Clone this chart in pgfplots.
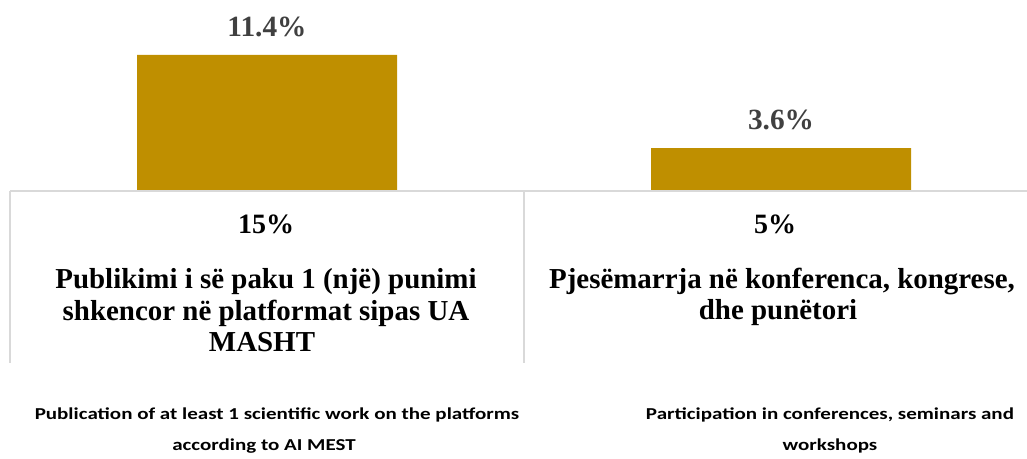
\documentclass[border=0pt]{standalone}
\usepackage{fontspec}
\setmainfont{Liberation Serif}
\newfontfamily\calibri[FakeStretch=1.26]{Carlito}
\usepackage{pgfplots}
\pgfplotsset{compat=1.18}
\definecolor{barcol}{RGB}{191,143,0}
\definecolor{gridcol}{RGB}{217,217,217}
\definecolor{lblcol}{RGB}{64,64,64}

\begin{document}
\begin{tikzpicture}
\begin{axis}[
  scale only axis, width=771pt, height=143.25pt,
  xmin=0, xmax=2, ymin=0, ymax=16,
  hide x axis, hide y axis,
  ybar, bar width=195pt,
  clip=false,
  nodes near coords={\pgfmathprintnumber[fixed,precision=1,fixed zerofill,assume math mode=true]{\pgfplotspointmeta}\%},
  every node near coord/.append style={font=\fontsize{22}{26}\selectfont\bfseries,
    text=lblcol, anchor=base, inner sep=0pt, yshift=14pt},
]
\addplot[fill=barcol, draw=none] coordinates {(0.5,11.4) (1.5,3.6)};
\coordinate (O) at (axis cs:0,0);
\end{axis}
\pgfresetboundingbox
% frame in image pixels, origin top-left
\begin{scope}[shift={(O)}, xshift=-7.5pt, yshift=143.25pt, x=0.75pt, y=-0.75pt]
\useasboundingbox (0,0) rectangle (1027,459);
\draw[gridcol, line width=1.1pt] (10,191) -- (1027,191);
\draw[gridcol, line width=1.1pt] (10,191) -- (10,363);
\draw[gridcol, line width=1.1pt] (524,191) -- (524,363);
\tikzset{pct/.style={font=\fontsize{21}{25}\selectfont\bfseries, anchor=base, inner sep=0pt},
  cell/.style={font=\fontsize{21.7}{26}\selectfont\bfseries, anchor=base, inner sep=0pt},
  eng/.style={font=\calibri\fontsize{12.5}{15}\selectfont\bfseries, anchor=base, inner sep=0pt}}
\node[pct] at (266,234) {15\%};
\node[cell] at (266,289) {Publikimi i së paku 1 (një) punimi};
\node[cell] at (266,321) {shkencor në platformat sipas UA};
\node[cell] at (262,352) {MASHT};
\node[pct] at (775,234) {5\%};
\node[cell] at (782,289) {Pjesëmarrja në konferenca, kongrese,};
\node[cell] at (778,320) {dhe punëtori};
\node[eng] at (277,420) {Publication of at least 1 scientific work on the platforms};
\node[eng] at (264,451) {according to AI MEST};
\node[eng] at (830,420) {Participation in conferences, seminars and};
\node[eng] at (830,451) {workshops};
\end{scope}
\end{tikzpicture}
\end{document}
